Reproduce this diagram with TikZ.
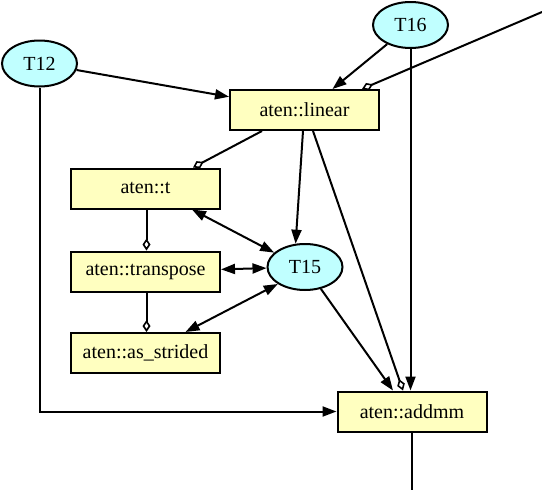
\documentclass[tikz,border=0pt]{standalone}
\usepackage{fontspec}
\setmainfont{Liberation Serif}
\usetikzlibrary{arrows.meta,shapes.geometric,calc}
\definecolor{boxfill}{RGB}{255,255,192}
\definecolor{tenfill}{RGB}{192,255,255}
\begin{document}
\begin{tikzpicture}[x=1pt,y=-1pt,
  every node/.style={font=\fontsize{20}{24}\selectfont},
  opbox/.style={draw,line width=2pt,fill=boxfill,rectangle,inner sep=0pt,minimum width=149pt,minimum height=40pt},
  tensor/.style={draw,line width=2pt,fill=tenfill,ellipse,inner sep=0pt,minimum width=75pt,minimum height=46pt},
  conn/.style={line width=2pt},
  arr/.style={conn,-{Triangle[length=14pt,width=10pt]}},
  biarr/.style={conn,{Triangle[length=14pt,width=10pt]}-{Triangle[length=14pt,width=10pt]}},
  dia/.style={conn,-{Diamond[open,length=12pt,width=8pt,line width=1.6pt]}}]
\useasboundingbox (0,0) rectangle (542,490);
\node[tensor] (t12) at (39.5,63.5) {T12};
\node[tensor] (t16) at (410.5,25) {T16};
\node[tensor] (t15) at (305,267) {T15};
\node[opbox] (lin) at (304.5,110) {aten::linear};
\node[opbox] (t) at (145.5,188.5) {aten::t};
\node[opbox] (tr) at (145.5,271.5) {aten::transpose};
\node[opbox] (as) at (145.5,353) {aten::as\_strided};
\node[opbox] (mm) at (412,411.5) {aten::addmm};
\coordinate (topin) at (542,12);
\coordinate (botout) at (412,490);
% edges
\draw[arr] (t12) -- (lin);
\draw[arr] (t16) -- ([xshift=28pt]lin.north);
\draw[dia] (topin) -- ([xshift=57.5pt]lin.north);
\draw[arr] (t12.south) |- (mm.west);
\draw[arr] (t16.south) -- (t16.south |- mm.north);
\draw[dia] ([xshift=-42.5pt]lin.south) -- ([xshift=47.5pt]t.north);
\draw[arr] ([xshift=-1.5pt]lin.south) -- (t15.112);
\draw[dia] ([xshift=8.5pt]lin.south) -- ([xshift=-9pt]mm.north);
\draw[arr] (t15.-54) -- ([xshift=-19pt]mm.north);
\draw[dia] ([xshift=1pt]t.south) -- ([xshift=1pt]tr.north);
\draw[dia] ([xshift=1pt]tr.south) -- ([xshift=1pt]as.north);
\draw[biarr] ([xshift=-29pt]t.south east) -- (t15.155);
\draw[biarr] (tr) -- (t15);
\draw[biarr] ([xshift=40pt]as.north) -- (t15.212);
\draw[conn] (mm.south) -- (botout);
\end{tikzpicture}
\end{document}
